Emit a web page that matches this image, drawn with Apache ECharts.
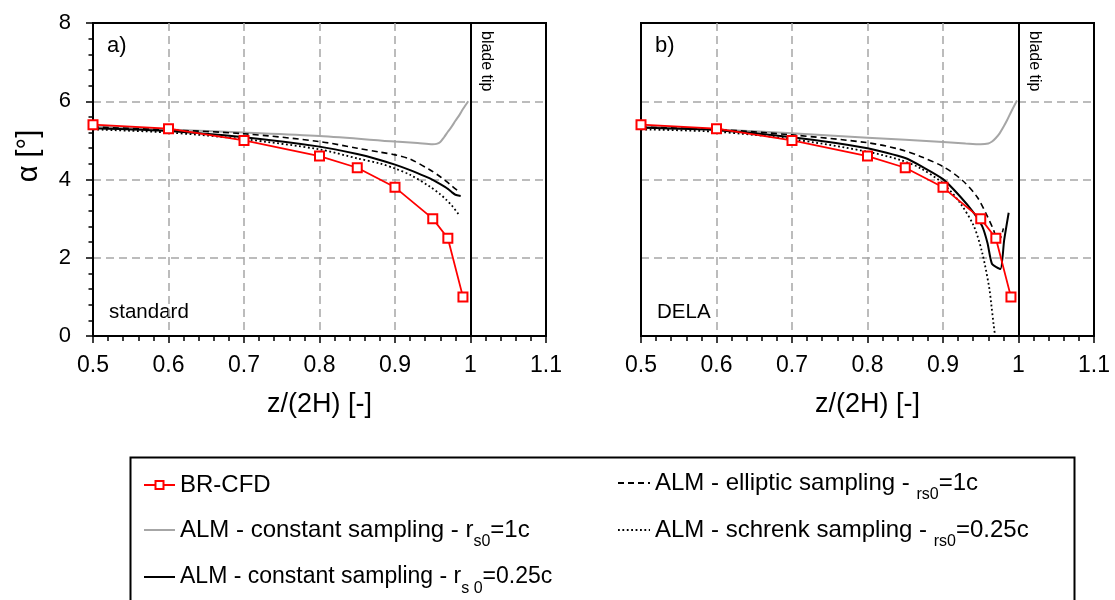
<!DOCTYPE html>
<html><head><meta charset="utf-8">
<script src="https://cdn.jsdelivr.net/npm/echarts@6/dist/echarts.min.js"></script>
<style>html,body{margin:0;padding:0;background:#fff}#c{width:1115px;height:600px}</style>
</head><body><div id="c"></div>
<script>
// ---------- data ----------
const brX = [0.5, 0.6, 0.7, 0.8, 0.85, 0.9, 0.95, 0.97, 0.99];
const brA = [5.4, 5.3, 5.0, 4.6, 4.3, 3.8, 3.0, 2.5, 1.0];
const brB = [5.4, 5.3, 5.0, 4.6, 4.3, 3.8, 3.0, 2.5, 1.0];

const grayXA = [0.5, 0.6, 0.7, 0.8, 0.9, 0.93, 0.95, 0.955, 0.96, 0.965, 0.97, 0.975, 0.98, 0.985, 0.99, 0.997];
const grayA  = [5.36, 5.28, 5.20, 5.11, 4.97, 4.93, 4.90, 4.91, 4.96, 5.08, 5.22, 5.35, 5.50, 5.64, 5.80, 6.0];
const grayXB = [0.5, 0.6, 0.7, 0.8, 0.9, 0.93, 0.95, 0.96, 0.965, 0.97, 0.975, 0.98, 0.985, 0.99, 0.998];
const grayB  = [5.36, 5.28, 5.18, 5.07, 4.96, 4.92, 4.90, 4.92, 4.97, 5.06, 5.18, 5.34, 5.52, 5.72, 6.02];

const blackXA = [0.5, 0.6, 0.7, 0.8, 0.85, 0.88, 0.9, 0.92, 0.94, 0.95, 0.96, 0.97, 0.975, 0.98, 0.987];
const blackA  = [5.31, 5.24, 5.08, 4.84, 4.65, 4.50, 4.38, 4.24, 4.08, 3.99, 3.88, 3.76, 3.68, 3.61, 3.58];
const blackXB = [0.5, 0.6, 0.7, 0.8, 0.85, 0.875, 0.9, 0.923, 0.941, 0.952, 0.959, 0.965, 0.976, 0.981, 0.987];
const blackB  = [5.32, 5.26, 5.08, 4.80, 4.55, 4.30, 4.01, 3.56, 3.14, 2.80, 2.37, 1.84, 1.71, 2.45, 3.15];

const ellXA = [0.5, 0.6, 0.7, 0.8, 0.85, 0.88, 0.9, 0.92, 0.946, 0.96, 0.968, 0.975, 0.98, 0.986];
const ellA  = [5.34, 5.27, 5.17, 4.97, 4.80, 4.70, 4.63, 4.52, 4.25, 4.07, 3.95, 3.84, 3.76, 3.68];
const ellXB = [0.5, 0.6, 0.7, 0.8, 0.843, 0.87, 0.9, 0.925, 0.945, 0.958, 0.967, 0.972, 0.976, 0.98];
const ellB  = [5.34, 5.28, 5.14, 4.94, 4.77, 4.59, 4.33, 3.99, 3.56, 3.09, 2.71, 2.46, 2.50, 2.75];

const schXA = [0.5, 0.6, 0.7, 0.8, 0.85, 0.88, 0.9, 0.92, 0.946, 0.96, 0.968, 0.975, 0.985];
const schA  = [5.28, 5.20, 5.03, 4.77, 4.54, 4.41, 4.28, 4.12, 3.82, 3.62, 3.48, 3.34, 3.09];
const schXB = [0.5, 0.6, 0.7, 0.8, 0.843, 0.87, 0.9, 0.923, 0.941, 0.952, 0.961, 0.964, 0.967, 0.969];
const schB  = [5.28, 5.22, 5.03, 4.71, 4.50, 4.29, 3.90, 3.39, 2.80, 2.12, 1.26, 0.80, 0.30, 0.0];

const tipX = 1.0;
const panelLabels = ['a)', 'b)'];
const caseLabels = ['standard', 'DELA'];

const nBR = 'BR-CFD';
const nGray = 'ALM - constant sampling - rs0=1c';
const nBlack = 'ALM - constant sampling - rs0=0.25c';
const nEll = 'ALM - elliptic sampling - rs0=1c';
const nSch = 'ALM - schrenk sampling - rs0=0.25c';
const legendText = {};
legendText[nBR] = 'BR-CFD';
legendText[nGray] = '{m|ALM - constant sampling - r}{sub|s0}{m|=1c}';
legendText[nBlack] = '{c|ALM - constant sampling - r}{sub|s 0}{c|=0.25c}';
legendText[nEll] = '{m|ALM - elliptic sampling - }{sub|rs0}{m|=1c}';
legendText[nSch] = '{m|ALM - schrenk sampling - }{sub|rs0}{m|=0.25c}';

// ---------- chart ----------
const FONT = 'Liberation Sans, Arial, sans-serif';
const zip = (xs, ys) => xs.map((x, i) => [x, ys[i]]);
const grids = [
  {left: 93, top: 23, width: 453, height: 313},
  {left: 641, top: 23, width: 453, height: 313}
];
const split = {show: true, showMinLine: false, showMaxLine: false, lineStyle: {color: '#a6a6a6', width: 1.5, type: [8, 5]}};

function xAx(i) {
  return {
    gridIndex: i, type: 'value', min: 0.5, max: 1.1, interval: 0.1,
    axisLine: {show: true, onZero: false, lineStyle: {color: '#000', width: 2}},
    axisTick: {show: true, length: 7, lineStyle: {color: '#000', width: 1.5}},
    minorTick: {show: true, splitNumber: 5, length: 5, lineStyle: {color: '#000', width: 1.5}},
    axisLabel: {fontSize: 23, color: '#000', margin: 18, fontFamily: FONT},
    splitLine: split,
    name: 'z/(2H) [-]', nameLocation: 'middle', nameGap: 55,
    nameTextStyle: {fontSize: 27, color: '#000', fontFamily: FONT}
  };
}
function yAx(i) {
  const a = {
    gridIndex: i, type: 'value', min: 0, max: 8, interval: 2,
    axisLine: {show: true, lineStyle: {color: '#000', width: 2}},
    splitLine: split
  };
  if (i === 0) {
    a.axisTick = {show: true, length: 7, lineStyle: {color: '#000', width: 1.5}};
    a.minorTick = {show: true, splitNumber: 5, length: 4.5, lineStyle: {color: '#000', width: 1.5}};
    a.axisLabel = {fontSize: 22, color: '#000', margin: 22, fontFamily: FONT};
    a.name = 'α [°]';
    a.nameLocation = 'middle';
    a.nameGap = 50;
    a.nameTextStyle = {fontSize: 29, color: '#000', fontFamily: FONT, padding: [0, 0, 0, 47]};
  } else {
    a.axisTick = {show: false};
    a.axisLabel = {show: false};
  }
  return a;
}

const series = [];
const sets = [
  {gray: [grayXA, grayA], black: [blackXA, blackA], ell: [ellXA, ellA], sch: [schXA, schA], br: [brX, brA]},
  {gray: [grayXB, grayB], black: [blackXB, blackB], ell: [ellXB, ellB], sch: [schXB, schB], br: [brX, brB]}
];
sets.forEach((s, i) => {
  const base = {type: 'line', xAxisIndex: i, yAxisIndex: i, showSymbol: false, symbol: 'none', animation: false, smooth: false};
  series.push(Object.assign({}, base, {name: nGray, data: zip(s.gray[0], s.gray[1]), lineStyle: {color: '#a6a6a6', width: 2}, itemStyle: {color: '#a6a6a6'}, smooth: 0.3}));
  series.push(Object.assign({}, base, {name: nEll, data: zip(s.ell[0], s.ell[1]), lineStyle: {color: '#000', width: 1.6, type: [6, 4]}, itemStyle: {color: '#000'}, smooth: 0.3}));
  series.push(Object.assign({}, base, {name: nSch, data: zip(s.sch[0], s.sch[1]), lineStyle: {color: '#000', width: 1.8, type: [1.8, 2.6]}, itemStyle: {color: '#000'}, smooth: 0.3}));
  series.push(Object.assign({}, base, {name: nBlack, data: zip(s.black[0], s.black[1]), lineStyle: {color: '#000', width: 2}, itemStyle: {color: '#000'}, smooth: 0.2}));
  series.push({
    type: 'line', name: nBR, xAxisIndex: i, yAxisIndex: i, animation: false,
    data: zip(s.br[0], s.br[1]),
    symbol: 'emptyRect', symbolSize: 9, showSymbol: true,
    lineStyle: {color: '#ff0000', width: 1.8}, itemStyle: {color: '#ff0000', borderWidth: 1.6},
    markLine: {
      silent: true, symbol: ['none', 'none'], animation: false,
      lineStyle: {color: '#000', width: 2, type: 'solid'},
      label: {show: true, position: 'insideStartTop', formatter: 'blade tip', fontSize: 16, color: '#000', fontFamily: FONT, distance: [8, 8]},
      emphasis: {disabled: true},
      data: [[{coord: [tipX, 8]}, {coord: [tipX, 0]}]]
    }
  });
});

const legBase = {
  orient: 'horizontal', padding: 0, itemHeight: 10, selectedMode: false,
  formatter: n => legendText[n],
  textStyle: {fontSize: 24, color: '#000', fontFamily: FONT,
    rich: {
      m: {fontSize: 24, fontFamily: FONT, color: '#000', lineHeight: 40, verticalAlign: 'top', padding: [8, 0, 0, 0]},
      sub: {fontSize: 16, fontFamily: FONT, color: '#000', lineHeight: 10, verticalAlign: 'bottom'},
      c: {fontSize: 23, fontFamily: FONT, color: '#000', lineHeight: 40, verticalAlign: 'top', padding: [8, 0, 0, 0]}
    }}
};
const noSym = {itemStyle: {opacity: 0}};
const legends = [
  Object.assign({}, legBase, {data: [nBR], left: 143, top: 473, itemWidth: 31}),
  Object.assign({}, legBase, noSym, {data: [nGray], left: 143, top: 510, itemWidth: 31}),
  Object.assign({}, legBase, noSym, {data: [nBlack], left: 143, top: 557, itemWidth: 31}),
  Object.assign({}, legBase, noSym, {data: [nEll], left: 617, top: 463, itemWidth: 32}),
  Object.assign({}, legBase, noSym, {data: [nSch], left: 617, top: 510, itemWidth: 32})
];

const graphics = [
  {type: 'rect', left: 128, top: 455, silent: true, shape: {width: 944, height: 170}, style: {fill: 'none', stroke: '#000', lineWidth: 2}}
];
grids.forEach((g, i) => {
  graphics.push({type: 'text', left: g.left + 14, top: 35, style: {text: panelLabels[i], fontSize: 22, fill: '#000', fontFamily: FONT}});
  graphics.push({type: 'text', left: g.left + 16, top: 302, style: {text: caseLabels[i], fontSize: 20.5, fill: '#000', fontFamily: FONT}});
});

const chart = echarts.init(document.getElementById('c'), null, {renderer: 'canvas'});
chart.setOption({
  backgroundColor: '#fff',
  animation: false,
  textStyle: {fontFamily: FONT},
  grid: grids.map(g => Object.assign({show: true, borderColor: '#000', borderWidth: 2, containLabel: false}, g)),
  xAxis: [xAx(0), xAx(1)],
  yAxis: [yAx(0), yAx(1)],
  legend: legends,
  series: series,
  graphic: graphics
});
</script></body></html>
